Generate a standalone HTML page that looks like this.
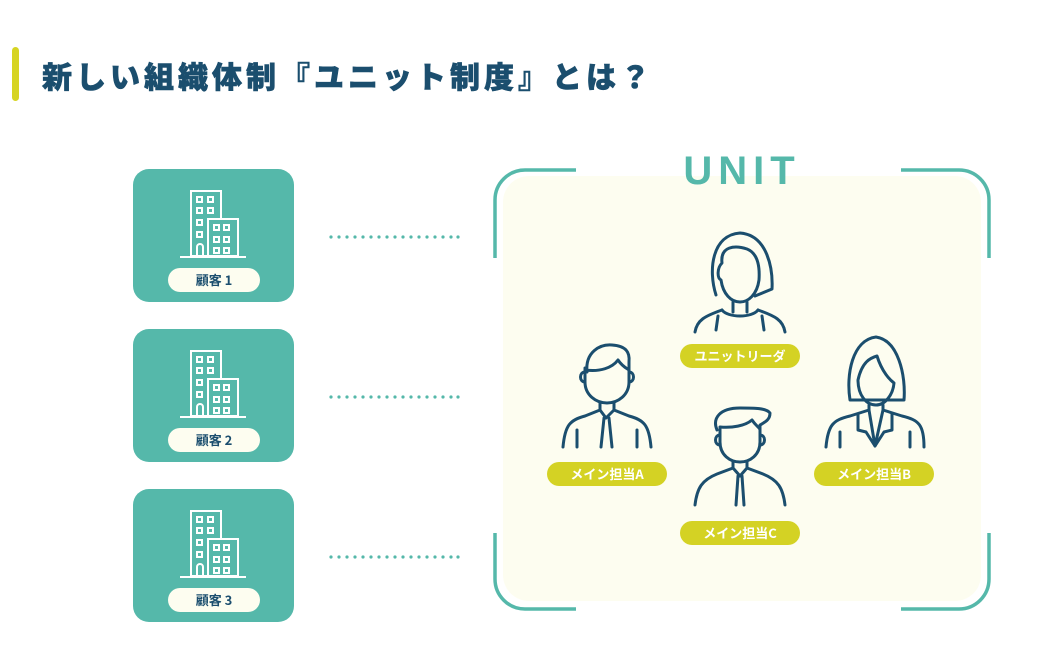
<!DOCTYPE html>
<html><head><meta charset="utf-8"><style>
html,body{margin:0;padding:0;background:#fff;}
body{width:1050px;height:670px;overflow:hidden;position:relative;font-family:"Liberation Sans","Noto Sans CJK JP",sans-serif;}
</style></head><body>
<svg width="1050" height="670" viewBox="0 0 1050 670" xmlns="http://www.w3.org/2000/svg" style="position:absolute;left:0;top:0">
<defs>
<g id="bld" fill="none" stroke="#fff" stroke-width="2">
  <rect x="191" y="191" width="30" height="65"/>
  <rect x="208" y="219" width="30" height="37" fill="#55b8aa"/>
  <line x1="180" y1="257" x2="246" y2="257"/>
  <rect x="197" y="197" width="5" height="5"/><rect x="208" y="197" width="5" height="5"/>
  <rect x="197" y="208" width="5" height="5"/><rect x="208" y="208" width="5" height="5"/>
  <rect x="197" y="220" width="5" height="5"/><rect x="197" y="232" width="5" height="5"/>
  <path d="M197 256 V247 a3 3 0 0 1 6 0 V256"/>
  <rect x="214" y="225" width="5" height="5"/><rect x="224" y="225" width="5" height="5"/>
  <rect x="214" y="237" width="5" height="5"/><rect x="224" y="237" width="5" height="5"/>
  <rect x="214" y="248" width="5" height="5"/><rect x="224" y="248" width="5" height="5"/>
</g>
<g id="dots" fill="#55b8aa">
  <circle cx="331" cy="0" r="1.6"/><circle cx="339" cy="0" r="1.6"/><circle cx="347" cy="0" r="1.6"/><circle cx="355" cy="0" r="1.6"/><circle cx="363" cy="0" r="1.6"/><circle cx="371" cy="0" r="1.6"/><circle cx="379" cy="0" r="1.6"/><circle cx="387" cy="0" r="1.6"/><circle cx="395" cy="0" r="1.6"/><circle cx="403" cy="0" r="1.6"/><circle cx="411" cy="0" r="1.6"/><circle cx="419" cy="0" r="1.6"/><circle cx="427" cy="0" r="1.6"/><circle cx="435" cy="0" r="1.6"/><circle cx="443" cy="0" r="1.6"/><circle cx="451" cy="0" r="1.6"/><circle cx="458" cy="0" r="1.6"/>
</g>
</defs>
<!-- title -->
<rect x="12" y="47" width="7" height="54" rx="3.5" fill="#d6d422"/>
<text x="42" y="88" font-size="30" font-weight="900" fill="#1b4e6e" letter-spacing="4" stroke="#1b4e6e" stroke-width="0.6" font-family="'Noto Sans CJK JP',sans-serif">新しい組織体制『ユニット制度』とは？</text>

<!-- customer boxes -->
<g>
  <rect x="133" y="169" width="161" height="133" rx="16" fill="#55b8aa"/>
  <use href="#bld"/>
  <rect x="168" y="268" width="92" height="24" rx="12" fill="#fdfdf0"/>
  <text x="214" y="285" font-size="13" font-weight="bold" fill="#1b4e6e" text-anchor="middle" font-family="'Noto Sans CJK JP',sans-serif">顧客 1</text>
  <use href="#dots" y="237"/>
</g>
<g transform="translate(0,160)">
  <rect x="133" y="169" width="161" height="133" rx="16" fill="#55b8aa"/>
  <use href="#bld"/>
  <rect x="168" y="268" width="92" height="24" rx="12" fill="#fdfdf0"/>
  <text x="214" y="285" font-size="13" font-weight="bold" fill="#1b4e6e" text-anchor="middle" font-family="'Noto Sans CJK JP',sans-serif">顧客 2</text>
  <use href="#dots" y="237"/>
</g>
<g transform="translate(0,320)">
  <rect x="133" y="169" width="161" height="133" rx="16" fill="#55b8aa"/>
  <use href="#bld"/>
  <rect x="168" y="268" width="92" height="24" rx="12" fill="#fdfdf0"/>
  <text x="214" y="285" font-size="13" font-weight="bold" fill="#1b4e6e" text-anchor="middle" font-family="'Noto Sans CJK JP',sans-serif">顧客 3</text>
  <use href="#dots" y="237"/>
</g>

<!-- unit frame -->
<rect x="503" y="176" width="478" height="425" rx="26" fill="#fdfdf0"/>
<g fill="none" stroke="#55b8aa" stroke-width="3.5">
  <path d="M576 170 H525 a30 30 0 0 0 -30 30 V258"/>
  <path d="M901 170 H959 a30 30 0 0 1 30 30 V258"/>
  <path d="M495 533 V579 a30 30 0 0 0 30 30 H576"/>
  <path d="M989 533 V579 a30 30 0 0 1 -30 30 H901"/>
</g>
<text x="742" y="184" font-size="40" font-weight="bold" fill="#55b8aa" text-anchor="middle" letter-spacing="6">UNIT</text>

<!-- people -->
<g fill="none" stroke="#1b4e6e" stroke-width="3" stroke-linecap="round" stroke-linejoin="round">
  <path d="M716 295 C708 270 712 235 740 233 C768 235 773 270 772 289 L755 296"/>
  <path d="M722 263 C720 246 735 245 747 249 C757 253 760 265 759 280 C757 295 748 302 740 302 C731 302 723 294 721 280 C717 278 717 268 722 263Z"/>
  <path d="M733 302 V312 M747 302 V312"/>
  <path d="M695 332 C697 320 705 316 722 310 M785 332 C783 320 775 316 758 310"/>
  <path d="M722 310 C728 318 752 318 758 310"/>
  <path d="M718 316 L716 330 M762 316 L764 330"/>
  <path d="M587 372 C585 352 600 344 612 345 C626 346 630 352 629 362 V376"/>
  <path d="M585 370 C600 372 612 368 618 360 C622 366 626 368 629 370"/>
  <path d="M585 368 V382 C585 395 596 403 607 403 C618 403 629 395 629 382 V368"/>
  <path d="M585 372 C579 372 579 382 585 382 M629 372 C635 372 635 382 629 382"/>
  <path d="M600 403 V410 L585 416 C570 420 565 425 563 447 M614 403 V410 L629 416 C644 420 649 425 651 447"/>
  <path d="M600 410 L606 418 L614 410 M604 418 L601 447 M609 418 L612 447"/>
  <path d="M577 430 V447 M637 430 V447"/>
  <path d="M717 430 C712 418 720 408 740 408 C755 408 766 408 770 413 C770 420 765 422 760 425 V440"/>
  <path d="M720 427 C732 428 745 426 752 420 C756 426 760 428 760 430"/>
  <path d="M720 428 V442 C720 455 730 462 740 462 C750 462 760 455 760 442 V430"/>
  <path d="M720 435 C714 435 714 445 720 445 M760 435 C766 435 766 445 760 445"/>
  <path d="M733 462 V468 L717 474 C702 480 697 488 695 505 M747 462 V468 L763 474 C778 480 783 488 785 505"/>
  <path d="M733 468 L740 476 L747 468 M738 476 L736 505 M742 476 L744 505"/>
  <path d="M850 400 C846 375 852 340 876 337 C898 340 906 375 904 400 Z"/>
  <path d="M858 380 C862 362 870 358 877 356 C882 372 890 380 894 383 C893 395 885 405 876 405 C866 405 858 395 858 380Z"/>
  <path d="M869 405 V410 L850 416 C833 420 828 425 826 447 M883 405 V410 L902 416 C919 420 924 425 924 447"/>
  <path d="M858 414 V430 L866 432 L875 446 L884 432 L892 430 V414"/>
  <path d="M869 410 L875 446 L883 410"/>
  <path d="M840 432 V447 M910 432 V447"/>
</g>

<!-- labels -->
<g font-size="13" font-weight="bold" fill="#fff" text-anchor="middle" font-family="'Noto Sans CJK JP',sans-serif">
  <rect x="680" y="344" width="120" height="24" rx="12" fill="#d4d224"/>
  <text x="740" y="361">ユニットリーダ</text>
  <rect x="547" y="462" width="120" height="24" rx="12" fill="#d4d224"/>
  <text x="607" y="479">メイン担当A</text>
  <rect x="814" y="462" width="120" height="24" rx="12" fill="#d4d224"/>
  <text x="874" y="479">メイン担当B</text>
  <rect x="680" y="521" width="120" height="24" rx="12" fill="#d4d224"/>
  <text x="740" y="538">メイン担当C</text>
</g>
</svg>
</body></html>
